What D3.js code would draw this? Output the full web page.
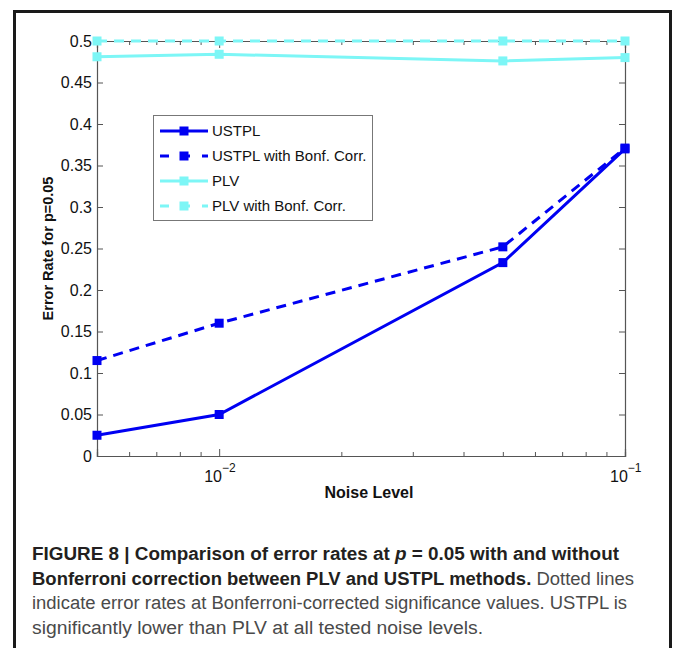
<!DOCTYPE html>
<html>
<head>
<meta charset="utf-8">
<script src="https://cdn.jsdelivr.net/npm/d3@7"></script>
<style>
  html, body { margin: 0; padding: 0; background: #fff; }
  svg { display: block; font-family: "Liberation Sans", Arial, Helvetica, sans-serif; }
  .caption { font-family: "Liberation Sans Narrow", "Liberation Sans", Arial, sans-serif; font-size: 18px; }
</style>
</head>
<body>
<div id="chart"></div>
<script>
// noise levels on the x axis (log)
const noiseLevels = [0.005, 0.01, 0.05, 0.1];

// error rates
const ustpl     = [0.025, 0.050, 0.233, 0.370];
const ustplBonf = [0.115, 0.160, 0.252, 0.371];
const plv       = [0.481, 0.484, 0.476, 0.480];
const plvBonf   = [0.500, 0.500, 0.500, 0.500];

const seriesNames = ['USTPL', 'USTPL with Bonf. Corr.', 'PLV', 'PLV with Bonf. Corr.'];

const yTicks = [0, 0.05, 0.1, 0.15, 0.2, 0.25, 0.3, 0.35, 0.4, 0.45, 0.5];
const xMajorTicks = [0.01, 0.1];
const xMinorTicks = [0.006, 0.007, 0.008, 0.009, 0.02, 0.03, 0.04, 0.05, 0.06, 0.07, 0.08, 0.09];

const captionLines = [
  [{ t: 'FIGURE 8 | Comparison of error rates at ', b: true }, { t: 'p', b: true, i: true }, { t: ' = 0.05 with and without', b: true }],
  [{ t: 'Bonferroni correction between PLV and USTPL methods.', b: true }, { t: ' Dotted lines', b: false }],
  [{ t: 'indicate error rates at Bonferroni-corrected significance values. USTPL is', b: false }],
  [{ t: 'significantly lower than PLV at all tested noise levels.', b: false }]
];

const W = 673, H = 648;
const margin = { left: 97, right: 48, top: 41, bottom: 192 }; // plot box 97..625, 41..456
const width = W - margin.left - margin.right;
const height = H - margin.top - margin.bottom;

const blue = '#0000f2', cyan = '#7df6f6', axisCol = '#555';

const svg = d3.select('#chart').append('svg').attr('width', W).attr('height', H);

// outer figure frame
svg.append('path')
  .attr('d', `M14.5,${H + 5}V11.5H670.5V${H + 5}`)
  .attr('fill', 'none').attr('stroke', '#1a1a1a').attr('stroke-width', 3);

const g = svg.append('g').attr('transform', `translate(${margin.left},${margin.top})`);

const x = d3.scaleLog().domain([0.005, 0.1]).range([0, width]);
const y = d3.scaleLinear().domain([0, 0.5]).range([height, 0]);

const fmt = d => String(+d.toFixed(2));

// axes: ticks point inwards on all four sides
g.append('g').attr('transform', `translate(0,${height})`)
  .call(d3.axisBottom(x).tickValues(xMinorTicks).tickSize(-4).tickFormat(''));
g.append('g').attr('transform', `translate(0,${height})`)
  .call(d3.axisBottom(x).tickValues(xMajorTicks).tickSize(-7).tickFormat(''));
g.append('g')
  .call(d3.axisTop(x).tickValues(xMinorTicks).tickSize(-4).tickFormat(''));
g.append('g')
  .call(d3.axisTop(x).tickValues(xMajorTicks).tickSize(-7).tickFormat(''));
g.append('g')
  .call(d3.axisLeft(y).tickValues(yTicks).tickSize(-6).tickFormat(fmt).tickPadding(10));
g.append('g').attr('transform', `translate(${width},0)`)
  .call(d3.axisRight(y).tickValues(yTicks).tickSize(-6).tickFormat(''));

g.selectAll('.domain').attr('stroke', axisCol).attr('stroke-width', 1.2);
g.selectAll('.tick line').attr('stroke', axisCol);
g.selectAll('.tick text').attr('font-size', 16).attr('fill', '#111')
  .attr('font-family', '"Liberation Sans", Arial, sans-serif').attr('dx', 5);

// x tick labels with exponent
xMajorTicks.forEach(v => {
  const t = g.append('text')
    .attr('x', x(v) - 15).attr('y', height + 26)
    .attr('font-size', 16).attr('fill', '#111');
  t.append('tspan').text('10');
  t.append('tspan').attr('dy', -10).attr('font-size', 12).text('\u2212' + Math.round(-Math.log10(v)));
});

// axis titles
g.append('text')
  .attr('x', width / 2 + 8).attr('y', height + 42)
  .attr('text-anchor', 'middle').attr('font-size', 16).attr('font-weight', 'bold')
  .attr('fill', '#111').text('Noise Level');
g.append('text')
  .attr('transform', `translate(${53 - margin.left},${height / 2}) rotate(-90)`)
  .attr('text-anchor', 'middle').attr('font-size', 14.5).attr('font-weight', 'bold')
  .attr('fill', '#111').text('Error Rate for p=0.05');

const series = [
  { name: seriesNames[0], values: ustpl, color: blue, dash: null },
  { name: seriesNames[1], values: ustplBonf, color: blue, dash: '10,7' },
  { name: seriesNames[2], values: plv, color: cyan, dash: null },
  { name: seriesNames[3], values: plvBonf, color: cyan, dash: '10,7' }
];

const line = d3.line().x((d, i) => x(noiseLevels[i])).y(d => y(d));

const sg = g.selectAll('g.series').data(series).enter().append('g').attr('class', 'series');
sg.append('path')
  .attr('d', d => line(d.values))
  .attr('fill', 'none')
  .attr('stroke', d => d.color)
  .attr('stroke-width', 3)
  .attr('stroke-dasharray', d => d.dash);
const ms = 9;
sg.selectAll('rect').data(d => d.values.map((v, i) => ({ v, i, color: d.color })))
  .enter().append('rect')
  .attr('x', d => x(noiseLevels[d.i]) - ms / 2)
  .attr('y', d => y(d.v) - ms / 2)
  .attr('width', ms).attr('height', ms)
  .attr('fill', d => d.color);

// legend
const lg = svg.append('g').attr('transform', 'translate(153,115)');
lg.append('rect').attr('x', 0.5).attr('y', 0.5).attr('width', 219).attr('height', 105)
  .attr('fill', '#fff').attr('stroke', '#777');
series.forEach((s, i) => {
  const yy = 16 + i * 25;
  lg.append('line').attr('x1', 7).attr('x2', 55).attr('y1', yy).attr('y2', yy)
    .attr('stroke', s.color).attr('stroke-width', 3)
    .attr('stroke-dasharray', s.dash ? '9,12' : null);
  lg.append('rect').attr('x', 31 - ms / 2).attr('y', yy - ms / 2)
    .attr('width', ms).attr('height', ms).attr('fill', s.color);
  lg.append('text').attr('x', 59).attr('y', yy + 5)
    .attr('font-size', 15).attr('fill', '#111').text(s.name);
});

// caption
const capX = 32, capY = 560, capLH = 24.7;
const capEnds = [619, 634, 627, 483];
captionLines.forEach((parts, li) => {
  const t = svg.append('text').attr('class', 'caption')
    .attr('x', capX).attr('y', capY + li * capLH)
    .attr('textLength', capEnds[li] - capX).attr('lengthAdjust', 'spacingAndGlyphs');
  parts.forEach(p => {
    t.append('tspan').text(p.t)
      .attr('font-weight', p.b ? 'bold' : 'normal')
      .attr('font-style', p.i ? 'italic' : null)
      .attr('fill', p.b ? '#231f20' : '#4a4a4a');
  });
});
</script>
</body>
</html>
